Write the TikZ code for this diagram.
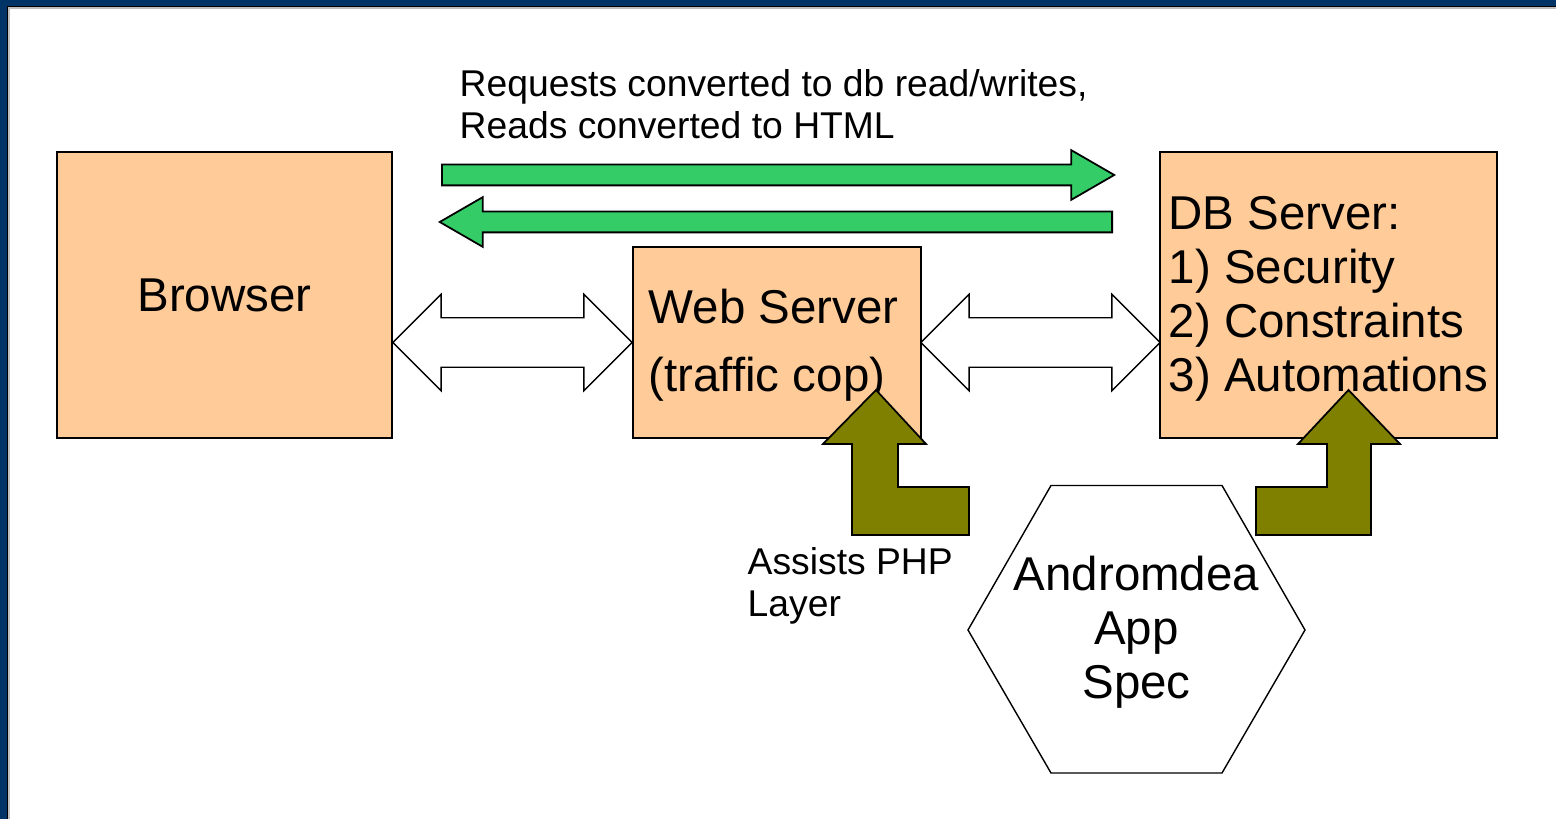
\documentclass[tikz,border=0pt]{standalone}
\usepackage{fontspec}
\setmainfont{Liberation Sans}
\usetikzlibrary{calc, positioning, shapes.geometric, shapes.arrows}

\definecolor{boxfill}{HTML}{FFCC99}
\definecolor{flowgreen}{HTML}{33CC66}
\definecolor{assistolive}{HTML}{808000}
\definecolor{frameblue}{HTML}{003366}

\newcommand{\tierfont}{\fontsize{13.5}{15.4}\selectfont}
\newcommand{\webfont}{\fontsize{13.5}{19.6}\selectfont}
\newcommand{\notefont}{\fontsize{10.6}{12}\selectfont}

\tikzset{
    tierbox/.style={draw, fill=boxfill, line width=0.5pt},
    linkarrow/.style={double arrow, draw, fill=white, line width=0.4pt,
        double arrow head extend=0.235cm, double arrow tip angle=90,
        inner xsep=0pt, inner ysep=0.24cm, minimum height=2.39cm},
    flowarrow/.style={single arrow, draw, fill=flowgreen, line width=0.5pt,
        single arrow head extend=0.145cm, single arrow tip angle=60,
        inner xsep=0pt, inner ysep=0.095cm, minimum height=6.72cm, anchor=tail},
    assistarrow/.style={draw, fill=assistolive, line width=0.5pt, line join=miter}
}

\begin{document}
\begin{tikzpicture}[x=0.01cm, y=-0.01cm, every node/.style={inner sep=0pt}]

    % 0. Rahmen der Folie
    \useasboundingbox (0,0) rectangle (1556,819);
    \fill[frameblue] (0,0) rectangle (1556,6.5);
    \fill[frameblue] (0,0) rectangle (7.5,819);
    \draw[line width=0.3pt] (8,819) -- (8,7) -- (1556,7);
    \draw[gray!50, line width=0.3pt] (9,819) -- (9,8) -- (1556,8);

    % 1. die drei Ebenen
    \node[tierbox, minimum width=3.35cm, minimum height=2.86cm, font=\tierfont] (browser) at (224.5,295) {Browser};
    \node[tierbox, minimum width=2.88cm, minimum height=1.91cm] (web) at (777,342.5) {};
    \node[tierbox, minimum width=3.37cm, minimum height=2.86cm] (db) at (1328.5,295) {};

    % 2. Pfeile zwischen den Ebenen
    \node[linkarrow] (browserweb) at ($(browser.east |- web.west)!0.5!(web.west)$) {};
    \node[linkarrow] (webdb) at ($(web.east)!0.5!(db.west |- web.east)$) {};
    \node[flowarrow] (flowout) at (441,175) {};
    \node[flowarrow, shape border rotate=180] (flowback) at (1113,222) {};

    % 3. App Spec (Sechseck)
    \draw[line width=0.4pt] (1051,485.5) -- (1222,485.5) -- (1305,630) -- (1222,773) -- (1051,773) -- (968,630) -- cycle;
    \node[font=\tierfont, align=center] (spec) at (1136.5,632) {Andromdea\\App\\Spec};

    % 4. Beschriftungen (base = letzte Zeile)
    \node[font=\notefont, align=left, anchor=base west] (flownote) at (459,139) {Requests converted to db read/writes,\\Reads converted to HTML};
    \node[font=\webfont, align=left, anchor=base west] (webtext) at (648,392) {Web Server\\(traffic cop)};
    \node[font=\tierfont, align=left, anchor=base west] (dbtext) at (1168,392) {DB Server:\\1) Security\\2) Constraints\\3) Automations};
    \node[font=\notefont, align=left, anchor=base west] (assisttext) at (747,617) {Assists PHP\\Layer};

    % 5. Hilfspfeile (liegen ueber dem Text)
    \draw[assistarrow] (876,390) -- (926,444) -- (898,444) -- (898,487) -- (969,487) -- (969,535)
        -- (852,535) -- (852,444) -- (823,444) -- cycle;
    \draw[assistarrow] (1348.5,390) -- (1400,444) -- (1371,444) -- (1371,535) -- (1256,535)
        -- (1256,487) -- (1327,487) -- (1327,444) -- (1298,444) -- cycle;

\end{tikzpicture}
\end{document}
